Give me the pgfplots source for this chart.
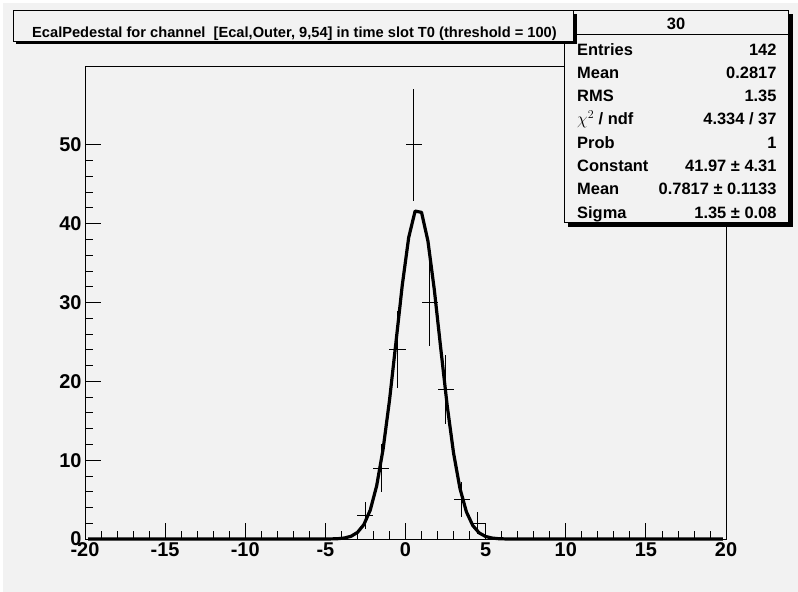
\documentclass[border=0pt]{standalone}
\usepackage{fontspec}
\setmainfont{Liberation Sans}
\usepackage{pgfplots}
\pgfplotsset{compat=1.18}
\usepackage{pgfplotstable}
\definecolor{bg}{RGB}{242,242,242}

\pgfplotstableread{
x    y   ex   ey
-2.5 3   0.5  1.732
-1.5 9   0.5  3.0
-0.5 24  0.5  4.899
0.5  50  0.5  7.071
1.5  30  0.5  5.477
2.5  19  0.5  4.359
3.5  5   0.5  2.236
4.5  2   0.5  1.414
}\histdata

\pgfplotstableread{
x     y
-19.8 0
-5.4  0.0012
-5.0  0.0044
-4.6  0.0149
-4.2  0.0463
-3.8  0.132
-3.4  0.346
-3.0  0.830
-2.6  1.821
-2.2  3.662
-1.8  6.742
-1.4  11.373
-1.0  17.567
-0.6  24.858
-0.2  32.219
0.2   38.249
0.6   41.591
1.0   41.425
1.4   37.791
1.8   31.578
2.2   24.168
2.6   16.944
3.0   10.880
3.4   6.399
3.8   3.447
4.2   1.701
4.6   0.769
5.0   0.318
5.4   0.121
5.8   0.042
6.2   0.013
6.6   0.004
19.8  0
}\fitdata

\begin{document}
\begin{tikzpicture}
\useasboundingbox (0,0) rectangle (798bp,-592bp);
\fill[white] (0,0) rectangle (798bp,-592bp);
\fill[bg] (3bp,-3bp) rectangle (798bp,-592bp);

\begin{axis}[
  scale only axis,
  width=641bp, height=472.3bp,
  at={(85bp,-539bp)}, anchor=south west,
  xmin=-20, xmax=20, ymin=0, ymax=59.9,
  axis background/.style={fill=bg},
  axis line style={black, line width=0.9bp},
  xtick={-20,-15,...,20},
  xticklabels={{-20},{-15},{-10},{-5},{0},{5},{10},{15},{20}},
  ytick={0,10,...,50},
  yticklabels={{0},{10},{20},{30},{40},{50}},
  minor x tick num=4, minor y tick num=4,
  tick align=inside,
  xtick pos=bottom, ytick pos=left,
  major tick length=16bp, minor tick length=8bp,
  tick style={black, line width=0.8bp},
  ticklabel style={font=\bfseries\fontsize{20}{20}\selectfont},
  /pgf/number format/assume math mode=true,
  clip=false,
]
\addplot[draw=none, mark=none,
  error bars/.cd, x dir=both, x explicit, y dir=both, y explicit,
  error mark=none, error bar style={draw=black, solid, line width=0.9bp}]
  table[x=x, y=y, x error=ex, y error=ey] {\histdata};
\addplot[black, line width=3.2bp, line join=round, sharp plot]
  table[x=x, y=y] {\fitdata};
\end{axis}

% stats box
\fill[black] (567.5bp,-14bp) rectangle (792.5bp,-226.5bp);
\filldraw[fill=bg, draw=black, line width=0.9bp] (564bp,-10.7bp) rectangle (788.5bp,-222.7bp);
\draw[black, line width=0.9bp] (564bp,-34bp) -- (788.5bp,-34bp);
\begin{scope}[every node/.style={inner sep=0pt, font=\bfseries\fontsize{16.5}{16.5}\selectfont}]
\node[anchor=base] at (676bp,-29.3bp) {30};
\node[anchor=base west] at (577bp,-55bp) {Entries};
\node[anchor=base east] at (776.7bp,-55bp) {142};
\node[anchor=base west] at (577bp,-78.3bp) {Mean};
\node[anchor=base east] at (776.7bp,-78.3bp) {0.2817};
\node[anchor=base west] at (577bp,-101.6bp) {RMS};
\node[anchor=base east] at (776.7bp,-101.6bp) {1.35};
\node[anchor=base west] at (577bp,-124.9bp) {$\chi^{2}$ / ndf};
\node[anchor=base east] at (776.7bp,-124.9bp) {4.334 / 37};
\node[anchor=base west] at (577bp,-148.2bp) {Prob};
\node[anchor=base east] at (776.7bp,-148.2bp) {1};
\node[anchor=base west] at (577bp,-171.5bp) {Constant};
\node[anchor=base east] at (776.7bp,-171.5bp) {41.97 ± 4.31};
\node[anchor=base west] at (577bp,-194.8bp) {Mean};
\node[anchor=base east] at (776.7bp,-194.8bp) {0.7817 ± 0.1133};
\node[anchor=base west] at (577bp,-218.1bp) {Sigma};
\node[anchor=base east] at (776.7bp,-218.1bp) {1.35 ± 0.08};
\end{scope}

% title box
\fill[black] (15.5bp,-13.5bp) rectangle (576.5bp,-43.8bp);
\filldraw[fill=bg, draw=black, line width=0.9bp] (13bp,-10.7bp) rectangle (573.5bp,-41bp);
\node[anchor=base west, inner sep=0pt, font=\bfseries\fontsize{14.7}{14.7}\selectfont]
  at (32bp,-37.7bp) {EcalPedestal for channel \ [Ecal,Outer, 9,54] in time slot T0 (threshold = 100)};
\end{tikzpicture}
\end{document}
